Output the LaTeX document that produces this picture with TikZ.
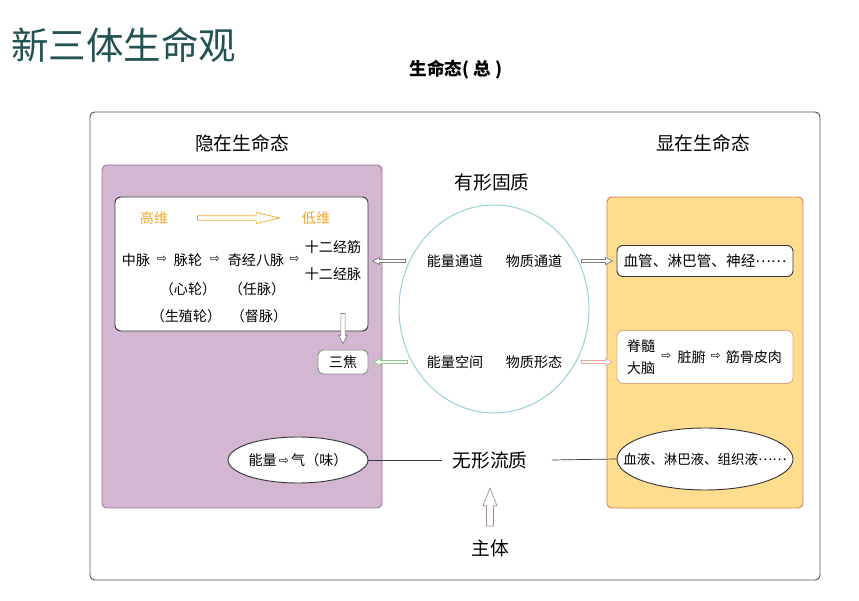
\documentclass[tikz,border=0pt]{standalone}
\usepackage{fontspec}
\setmainfont{Noto Sans CJK SC}
\newfontfamily\symfont{DejaVu Sans}
\usetikzlibrary{calc,fit,positioning,shapes.geometric}
\definecolor{ink}{RGB}{55,55,55}
\definecolor{framegrey}{RGB}{80,80,80}
\definecolor{titleteal}{RGB}{35,82,82}
\definecolor{purp}{RGB}{211,183,210}
\definecolor{purpline}{RGB}{158,116,152}
\definecolor{yel}{RGB}{254,222,142}
\definecolor{yelline}{RGB}{224,122,80}
\definecolor{gold}{RGB}{240,168,45}
\definecolor{sky}{RGB}{145,205,215}
\definecolor{arrgrey}{RGB}{125,125,125}
\definecolor{grn}{RGB}{145,200,140}
\definecolor{pnk}{RGB}{238,168,155}
\definecolor{pale}{RGB}{228,168,128}
\definecolor{sagegrey}{RGB}{130,150,130}
\definecolor{mauve}{RGB}{165,140,165}
\newcommand{\fs}[1]{\fontsize{#1}{#1}\selectfont}
\newcommand{\ra}{{\symfont\fs{10}\raisebox{0.5pt}{⇨}}}
\newcommand{\middots}{\raisebox{0.3em}{……}}
\tikzset{
  panel/.style={rounded corners=4pt,inner sep=0pt,line width=0.8pt},
  card/.style={draw=ink,fill=white,rounded corners=5pt,inner sep=0pt,line width=0.8pt},
  txt/.style={font=\fs{12},inner sep=1pt},
  head/.style={font=\fs{16},inner sep=1pt},
  hollow/.style n args={3}{to path={let \p1=($(\tikztotarget)-(\tikztostart)$),
      \n1={veclen(\x1,\y1)}, \n2={atan2(\y1,\x1)} in
      {[shift={(\tikztostart)},rotate=\n2]
        (0pt,-#1) -- ({\n1-#3},-#1) -- ({\n1-#3},-#2) -- ({\n1+0pt},0pt)
        -- ({\n1-#3},#2) -- ({\n1-#3},#1) -- (0pt,#1) -- cycle}}},
  thinarr/.style={fill=white,line width=0.6pt,hollow={1.3pt}{3pt}{6pt}},
  link/.style={draw=ink,line width=0.6pt},
}

\begin{document}
\begin{tikzpicture}[x=0.03cm,y=-0.03cm]
  \useasboundingbox (0,0) rectangle (859,601);
  \node[anchor=west,font=\fs{32},text=titleteal,inner sep=0pt] (title) at (11,45) {新三体生命观};
  \node[font=\fs{15}\bfseries] (whole) at (456,70) {生命态(\ 总\ )};

  % frames
  \node[panel,draw=framegrey,fit={(90,112) (820,580)}] (frame) {};
  \node[panel,draw=purpline,fill=purp,fit={(102,165) (382,508)}] (hidden) {};
  \node[panel,draw=yelline,fill=yel,fit={(607,197) (803,508)}] (shown) {};
  \node[head] (hiddenlbl) at (242,143) {隐在生命态};
  \node[head] (shownlbl) at (703,143) {显在生命态};

  % left side
  \node[card,fit={(115,197) (368,331)}] (inner) {};
  \node[txt,text=gold] (high) at (154,218) {高维};
  \node[txt,text=gold] (low) at (316,218) {低维};
  \coordinate (h1) at ($(high.east)+(28,0)$);
  \coordinate (h2) at ($(low.west)+(-21,0)$);
  \draw[draw=gold,fill=white,line width=0.6pt,hollow={2pt}{4.7pt}{20pt}] (h1) to (h2);
  \node[txt] (zm) at (136,260) {中脉};
  \node[txt] (ml) at (188,260) {脉轮};
  \node[txt] (qj) at (256,260) {奇经八脉};
  \node[txt] (jj) at (333,247) {十二经筋};
  \node[txt] (jm) at (333,274) {十二经脉};
  \node[txt] at ($(zm.east)!.5!(ml.west)$) {\ra};
  \node[txt] at ($(ml.east)!.5!(qj.west)$) {\ra};
  \node[txt] at ($(qj.east)!.5!(jj.west |- qj)$) {\ra};
  \node[txt] (xl) at (188,289) {（心轮）};
  \node[txt] (rm) at (257,289) {（任脉）};
  \node[txt] (szl) at (186,316) {（生殖轮）};
  \node[txt] (dm) at (259,316) {（督脉）};
  \node[card,draw=sagegrey,font=\fs{12},minimum width=1.5cm,minimum height=0.72cm] (sj) at (343,362) {三焦};
  \coordinate (d1) at ($(inner.south -| sj.north)+(0,-18)$);
  \coordinate (d2) at ($(sj.north)+(0,-6)$);
  \draw[draw=arrgrey,fill=white,line width=0.6pt,hollow={1.8pt}{3.6pt}{7pt}] (d1) to (d2);
  \node[ellipse,draw=ink,fill=white,line width=0.8pt,inner sep=0pt,
    minimum width=4.2cm,minimum height=1.38cm] (qi) at (298,460) {};
  \node[txt] (qilbl) at (qi) {能量\,\ra\,气（味）};

  % middle
  \node[head] (solidlbl) at (492,182) {有形固质};
  \node[ellipse,draw=sky,line width=0.8pt,inner sep=0pt,
    minimum width=5.7cm,minimum height=6.24cm] (solid) at (494,309) {};
  \node[txt] (nltd) at (455,261) {能量通道};
  \node[txt] (wztd) at (534,261) {物质通道};
  \node[txt] (nlkj) at (455,362) {能量空间};
  \node[txt] (wzxt) at (534,362) {物质形态};
  \node[head] (fluid) at (490,460) {无形流质};
  \node[head] (subj) at (490,548) {主体};
  \coordinate (u1) at ($(subj.north)+(0,-12)$);
  \coordinate (u2) at ($(fluid.south)+(0,18)$);
  \draw[draw=mauve,fill=white,line width=0.6pt,hollow={3pt}{6pt}{15pt}] (u1) to (u2);

  % right side
  \node[card,font=\fs{12.5},minimum width=5.28cm,minimum height=0.93cm] (vessel) at (705,261) {血管、淋巴管、神经\middots};
  \node[card,draw=pale,minimum width=5.28cm,minimum height=1.59cm] (organ) at (705,357) {};
  \node[txt,align=center,font=\fontsize{12}{19}\selectfont] (brain) at (641,357) {脊髓\\大脑};
  \node[txt,right=3pt of brain] (a1) {\ra};
  \node[txt,right=3pt of a1] (zf) {脏腑};
  \node[txt,right=2pt of zf] (a2) {\ra};
  \node[txt,right=2pt of a2] (jg) {筋骨皮肉};
  \node[ellipse,draw=ink,fill=white,line width=0.8pt,inner sep=0pt,
    minimum width=5.28cm,minimum height=1.86cm] (liquid) at (705,459) {};
  \node[txt,font=\fs{11.5}] (liquidlbl) at (liquid) {血液、淋巴液、组织液\middots};

  % connectors
  \coordinate (l1) at ($(solid.west |- nltd)+(7,0)$);
  \coordinate (l2) at ($(inner.east |- nltd)+(4,0)$);
  \draw[thinarr,draw=arrgrey] (l1) to (l2);
  \coordinate (g1) at ($(solid.west |- nlkj)+(9,0)$);
  \coordinate (g2) at ($(sj.east)+(5,0)$);
  \draw[thinarr,draw=grn] (g1) to (g2);
  \coordinate (r1) at ($(solid.east |- wztd)+(-8,0)$);
  \coordinate (r2) at ($(vessel.west)+(-4,0)$);
  \draw[thinarr,draw=arrgrey] (r1) to (r2);
  \coordinate (p1) at ($(solid.east |- wzxt)+(-8,0)$);
  \coordinate (p2) at ($(organ.west |- wzxt)+(-4,0)$);
  \draw[thinarr,draw=pnk] (p1) to (p2);
  \draw[link] (qi.east) -- ($(fluid.west)+(-9,0)$);
  \draw[link] ($(fluid.east)+(23,0)$) -- (liquid.west);
\end{tikzpicture}
\end{document}
